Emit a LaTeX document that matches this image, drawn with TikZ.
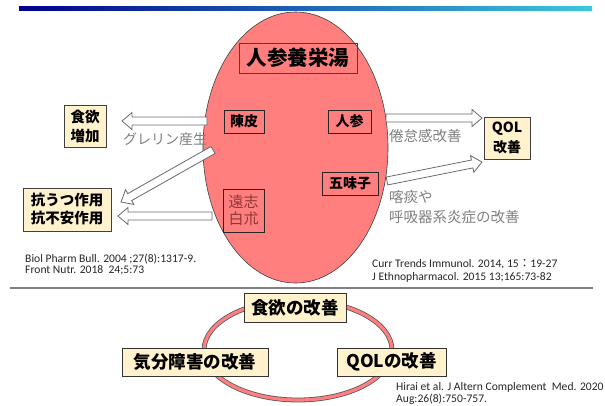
\documentclass[tikz,border=0pt]{standalone}
\usepackage{fontspec}
\setmainfont{Carlito}
\newfontfamily\cjk{Noto Sans CJK JP}
\usetikzlibrary{calc,shapes.geometric}
\definecolor{ellred}{RGB}{255,127,127}
\definecolor{boxyel}{RGB}{255,242,204}
\definecolor{txtgray}{RGB}{128,128,128}
\definecolor{arrgray}{RGB}{105,105,105}
\definecolor{mutedred}{RGB}{140,55,55}
\definecolor{darkbrown}{RGB}{110,50,50}
\definecolor{barleft}{RGB}{0,0,140}
\definecolor{barmid}{RGB}{30,100,200}
\definecolor{barright}{RGB}{60,200,220}
\newcommand\blockarrow[2]{%
  \draw[blockarr] let \p1=(#1), \p2=(#2), \n1={atan2(\y2-\y1,\x2-\x1)} in
    ($(\p1)+({\n1+90}:4pt)$)
    -- ($(\p2)+({\n1+180}:10pt)+({\n1+90}:4pt)$)
    -- ($(\p2)+({\n1+180}:10pt)+({\n1+90}:8.5pt)$)
    -- (\p2)
    -- ($(\p2)+({\n1+180}:10pt)+({\n1-90}:8.5pt)$)
    -- ($(\p2)+({\n1+180}:10pt)+({\n1-90}:4pt)$)
    -- ($(\p1)+({\n1-90}:4pt)$) -- cycle;}
\begin{document}
\begin{tikzpicture}[x=1pt,y=-1pt,
  ybox/.style={draw=black!75, fill=boxyel, line width=0.8pt, inner sep=0pt, align=center,
    font=\cjk\bfseries\fontsize{14.5}{19}\selectfont},
  ibox/.style={draw=black!85, line width=0.7pt, inner sep=0pt, align=center,
    font=\cjk\bfseries\fontsize{14}{18}\selectfont},
  bbox/.style={draw=black!80, fill=boxyel, line width=0.9pt, inner sep=0pt,
    minimum height=28pt, font=\cjk\bfseries\fontsize{17.5}{20}\selectfont},
  gtext/.style={text=txtgray, anchor=west, inner sep=0pt, font=\cjk\fontsize{14.5}{20}\selectfont},
  ref/.style={anchor=base west, inner sep=0pt, text=black!85, font=\fontsize{11.6}{13}\selectfont},
  blockarr/.style={draw=arrgray, fill=white, line width=0.8pt, line join=miter},
]
\useasboundingbox (0,0) rectangle (605,405);
\fill[white] (0,0) rectangle (605,405);
% top bar
\shade[left color=barleft, middle color=barmid, right color=barright] (19,6) rectangle (592,10);
% big ellipse
\node[ellipse, draw=black!75, line width=0.6pt, fill=ellred, inner sep=0pt,
  minimum width=185pt, minimum height=271pt] (herb) at (295.5,147.5) {};
\node[draw=darkbrown, line width=0.7pt, inner sep=0pt, minimum width=118pt, minimum height=30pt,
  font=\cjk\bfseries\fontsize{20.5}{24}\selectfont] (title) at (298,58) {人参養栄湯};
\node[ibox, minimum width=40pt, minimum height=23pt] (chinpi) at (244,121.5) {陳皮};
\node[ibox, minimum width=43pt, minimum height=23pt] (ninjin) at (349.5,121.5) {人参};
\node[ibox, minimum width=56pt, minimum height=23pt] (gomishi) at (350,183.5) {五味子};
\node[ibox, minimum width=41pt, minimum height=43pt, text=mutedred,
  font=\cjk\fontsize{15}{17.5}\selectfont] (onji) at (243.5,210.5) {遠志\\白朮};
% outside boxes
\node[ybox, minimum width=42pt, minimum height=42pt] (appetite) at (85,126) {食欲\\増加};
\node[ybox, minimum width=88pt, minimum height=43pt, font=\cjk\bfseries\fontsize{14.5}{18}\selectfont]
  (antidep) at (67,209.5) {抗うつ作用\\抗不安作用};
\node[ybox, minimum width=46pt, minimum height=42pt, font=\cjk\bfseries\fontsize{14}{20}\selectfont]
  (qol) at (507,138) {QOL\\改善};
% arrow end points
\coordinate (a1s) at (207,121); \coordinate (a1e) at (122,121);
\coordinate (a2s) at (213,150); \coordinate (a2e) at (121,202);
\coordinate (a3s) at (212,216); \coordinate (a3e) at (118,216);
\coordinate (a4s) at (386,118); \coordinate (a4e) at (482,118);
\coordinate (a5s) at (387,181); \coordinate (a5e) at (482,162);
\blockarrow{a1s}{a1e}
\blockarrow{a2s}{a2e}
\blockarrow{a3s}{a3e}
\blockarrow{a4s}{a4e}
\blockarrow{a5s}{a5e}
% gray labels
\node[gtext, font=\cjk\fontsize{14}{20}\selectfont] (ghrelin) at (123,139) {グレリン産生};
\node[gtext] (fatigue) at (389,136) {倦怠感改善};
\node[gtext] (sputum) at (389,197) {喀痰や};
\node[gtext] (resp) at (389,217) {呼吸器系炎症の改善};
% references
\node[ref] (r1) at (25,262) {Biol Pharm Bull. 2004 ;27(8):1317-9.};
\node[ref] (r2) at (25,273) {Front Nutr. 2018\ \ 24;5:73};
\node[ref] (r3) at (372,267) {Curr Trends Immunol. 2014, 15{\cjk ：}19-27};
\node[ref] (r4) at (372,280) {J Ethnopharmacol. 2015 13;165:73-82};
% separator
\draw[black!50, line width=1.3pt] (10,288) -- (593,288);
% bottom ring
\draw[black!65, line width=4.8pt] (298,350) ellipse [x radius=94pt, y radius=50pt];
\draw[ellred, line width=3.2pt] (298,350) ellipse [x radius=94pt, y radius=50pt];
\node[bbox, minimum width=102pt, minimum height=29pt] (b1) at (295,307.5) {食欲の改善};
\node[bbox, minimum width=146pt] (b2) at (195,362) {気分障害の改善};
\node[bbox, minimum width=109pt] (b3) at (391.5,362) {QOLの改善};
\node[ref] (r5) at (396,390) {Hirai et al. J Altern Complement\ \ Med. 2020};
\node[ref] (r6) at (396,402) {Aug:26(8):750-757.};
\end{tikzpicture}
\end{document}
